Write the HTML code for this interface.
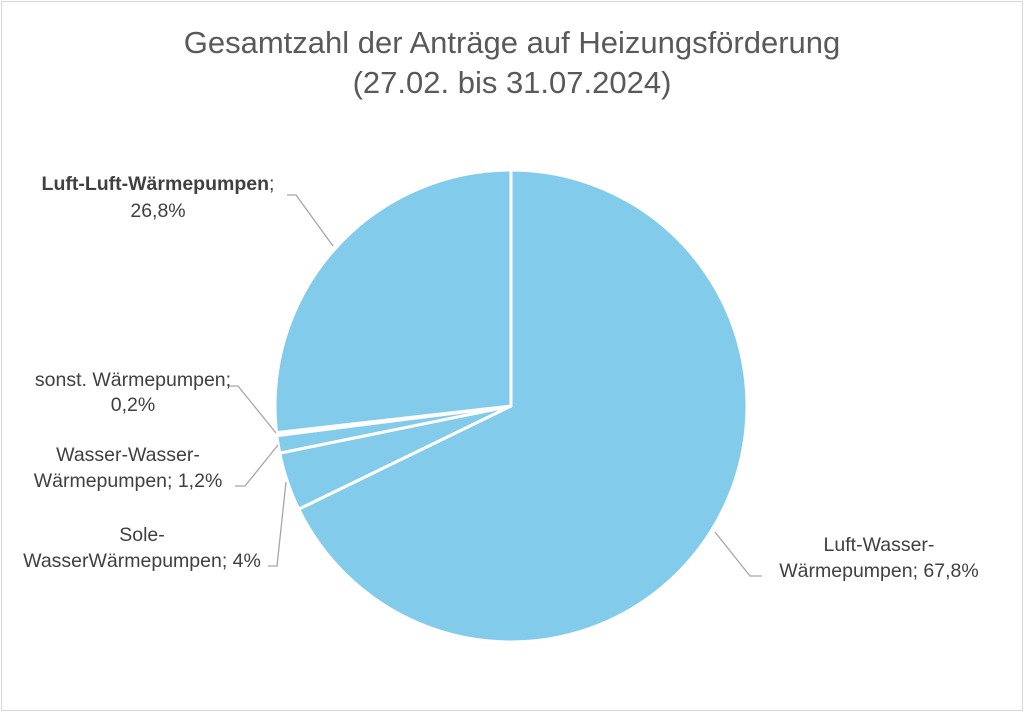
<!DOCTYPE html>
<html><head><meta charset="utf-8"><style>
body{margin:0;background:#fff;}
svg{display:block;font-family:"Liberation Sans",sans-serif;}
</style></head><body>
<svg width="1024" height="713">
<rect x="1.5" y="1.5" width="1021" height="709" fill="#fff" stroke="#d9d9d9"/>
<text x="512" y="53" text-anchor="middle" font-size="31" fill="#595959">Gesamtzahl der Anträge auf Heizungsförderung</text>
<text x="512" y="93" text-anchor="middle" font-size="31" fill="#595959">(27.02. bis 31.07.2024)</text>
<g id="slices"></g>
<g stroke="#a6a6a6" stroke-width="1.3" fill="none">
<polyline points="287,195 296,195 333,246"/>
<polyline points="228,386 238,386 276,433"/>
<polyline points="235,486 245,486 278,445"/>
<polyline points="268,566 277,566 286,482"/>
<polyline points="715,532 750,576 762,576"/>
</g>
<g font-size="19.5" fill="#404040">
<text x="158" y="190" text-anchor="middle"><tspan font-weight="bold">Luft-Luft-Wärmepumpen</tspan>;</text>
<text x="158" y="217" text-anchor="middle">26,8%</text>
<text x="133" y="386" text-anchor="middle">sonst. Wärmepumpen;</text>
<text x="133" y="411" text-anchor="middle">0,2%</text>
<text x="128" y="461" text-anchor="middle">Wasser-Wasser-</text>
<text x="128" y="487" text-anchor="middle">Wärmepumpen; 1,2%</text>
<text x="142" y="541" text-anchor="middle">Sole-</text>
<text x="142" y="567" text-anchor="middle">WasserWärmepumpen; 4%</text>
<text x="879" y="551" text-anchor="middle">Luft-Wasser-</text>
<text x="879" y="577" text-anchor="middle">Wärmepumpen; 67,8%</text>
</g>
</svg>
<script>
const categories=["Luft-Wasser","Sole-Wasser","Wasser-Wasser","sonst","Luft-Luft"];
const values=[67.8,4,1.2,0.2,26.8];
const cx=511,cy=406,r=236;
const g=document.getElementById('slices');
const total=values.reduce((a,b)=>a+b,0);
let a0=0;
function pt(a){return [cx+r*Math.sin(a),cy-r*Math.cos(a)];}
values.forEach((v,i)=>{
  const a1=a0+v/total*2*Math.PI;
  const p0=pt(a0),p1=pt(a1);
  const large=(a1-a0)>Math.PI?1:0;
  const p=document.createElementNS('http://www.w3.org/2000/svg','path');
  p.setAttribute('d',`M${cx},${cy}L${p0[0]},${p0[1]}A${r},${r} 0 ${large} 1 ${p1[0]},${p1[1]}Z`);
  p.setAttribute('fill','#83cbeb');
  p.setAttribute('stroke','#fff');
  p.setAttribute('stroke-width','3');
  p.setAttribute('stroke-linejoin','round');
  
  
  g.appendChild(p);
  a0=a1;
});
</script>
</body></html>
